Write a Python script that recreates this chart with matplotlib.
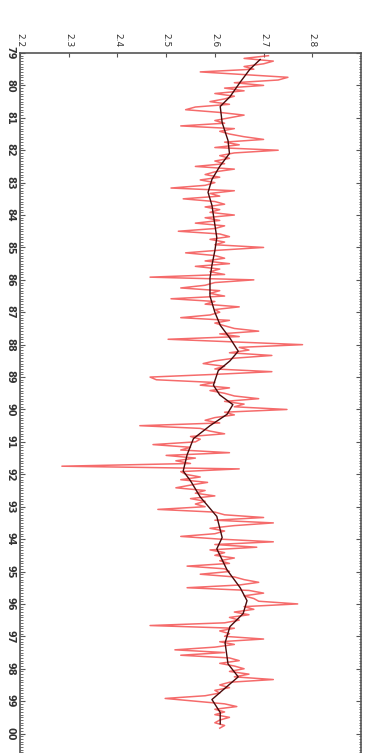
import numpy as np
import matplotlib.pyplot as plt

# ----------------------------------------------------------------------
# Data read off the (rotated) reference: monthly values, Feb 1979 .. Nov 1999
# ----------------------------------------------------------------------
start_year = 1979 + 1 / 12

monthly_values = [
    # 1979 (Feb..Dec)
    2.71, 2.66, 2.72, 2.70, 2.66, 2.68, 2.57, 2.66, 2.75, 2.73, 2.64,
    # 1980
    2.70, 2.62, 2.66, 2.60, 2.64, 2.62, 2.59, 2.63, 2.56, 2.54, 2.61, 2.66,
    # 1981
    2.63, 2.60, 2.62, 2.53, 2.64, 2.61, 2.63, 2.66, 2.70, 2.62, 2.65, 2.60,
    # 1982
    2.73, 2.64, 2.61, 2.63, 2.60, 2.62, 2.56, 2.64, 2.60, 2.58, 2.61, 2.57,
    # 1983
    2.60, 2.58, 2.51, 2.64, 2.59, 2.61, 2.535, 2.60, 2.62, 2.58, 2.61, 2.59,
    # 1984
    2.64, 2.58, 2.61, 2.56, 2.62, 2.60, 2.525, 2.61, 2.63, 2.59, 2.62, 2.60,
    # 1985
    2.70, 2.61, 2.54, 2.60, 2.62, 2.58, 2.63, 2.56, 2.61, 2.59, 2.62, 2.467,
    # 1986
    2.68, 2.60, 2.58, 2.53, 2.61, 2.59, 2.62, 2.51, 2.60, 2.58, 2.65, 2.60,
    # 1987
    2.61, 2.59, 2.53, 2.63, 2.60, 2.62, 2.64, 2.69, 2.61, 2.65, 2.504, 2.64,
    # 1988
    2.78, 2.65, 2.67, 2.63, 2.717, 2.64, 2.60, 2.576, 2.62, 2.60, 2.717, 2.60,
    # 1989
    2.467, 2.48, 2.60, 2.57, 2.63, 2.59, 2.62, 2.64, 2.69, 2.62, 2.66, 2.64,
    # 1990
    2.748, 2.62, 2.64, 2.60, 2.58, 2.61, 2.446, 2.57, 2.59, 2.62, 2.55, 2.57,
    # 1991
    2.56, 2.473, 2.55, 2.53, 2.63, 2.50, 2.56, 2.52, 2.55, 2.286, 2.65, 2.53,
    # 1992
    2.54, 2.57, 2.53, 2.585, 2.55, 2.52, 2.58, 2.56, 2.60, 2.55, 2.58, 2.56,
    # 1993
    2.58, 2.483, 2.60, 2.62, 2.70, 2.60, 2.72, 2.64, 2.59, 2.62, 2.60, 2.53,
    # 1994
    2.61, 2.72, 2.60, 2.686, 2.59, 2.62, 2.60, 2.64, 2.61, 2.63, 2.543, 2.62,
    # 1995
    2.63, 2.57, 2.64, 2.66, 2.69, 2.65, 2.543, 2.67, 2.70, 2.66, 2.68, 2.69,
    # 1996
    2.77, 2.66, 2.68, 2.64, 2.67, 2.63, 2.65, 2.62, 2.467, 2.64, 2.61, 2.63,
    # 1997
    2.62, 2.70, 2.61, 2.64, 2.60, 2.518, 2.62, 2.53, 2.63, 2.65, 2.61, 2.64,
    # 1998
    2.66, 2.63, 2.67, 2.64, 2.72, 2.63, 2.61, 2.63, 2.60, 2.61, 2.58, 2.498,
    # 1999 (Jan..Nov)
    2.56, 2.62, 2.645, 2.60, 2.62, 2.60, 2.63, 2.61, 2.60, 2.62, 2.61,
]

# smoothed curve (dark line)
smooth_years = [1979.2, 1979.5, 1979.9, 1980.35, 1980.65, 1981.15, 1981.7,
                1982.1, 1982.5, 1982.9, 1983.3, 1983.7, 1984.3, 1984.7,
                1985.1, 1985.55, 1985.95, 1986.5, 1987.0, 1987.4, 1987.8,
                1988.2, 1988.5, 1988.8, 1989.25, 1989.55, 1989.85, 1990.15,
                1990.5, 1990.9, 1991.4, 1991.9, 1992.2, 1992.7, 1993.3,
                1993.95, 1994.3, 1994.95, 1995.5, 1995.9, 1996.3, 1996.7,
                1997.2, 1997.85, 1998.25, 1998.65, 1998.95, 1999.35, 1999.7]
smooth_values = [2.693, 2.672, 2.652, 2.631, 2.611, 2.615, 2.627,
                 2.630, 2.610, 2.594, 2.586, 2.594, 2.600, 2.604,
                 2.600, 2.594, 2.590, 2.590, 2.600, 2.611, 2.631,
                 2.648, 2.631, 2.607, 2.597, 2.610, 2.637, 2.625,
                 2.590, 2.556, 2.543, 2.535, 2.550, 2.570, 2.604,
                 2.615, 2.604, 2.625, 2.652, 2.666, 2.658, 2.631,
                 2.621, 2.627, 2.648, 2.617, 2.594, 2.611, 2.611]

value_ticks = [2.2, 2.3, 2.4, 2.5, 2.6, 2.7, 2.8]
year_ticks = list(range(1979, 2001))
year_labels = [f"{y % 100:02d}" for y in year_ticks]

months = start_year + np.arange(len(monthly_values)) / 12

# ----------------------------------------------------------------------
# Figure (drawn already rotated: value across, time downward)
# ----------------------------------------------------------------------
fig = plt.figure(figsize=(3.71, 7.53), dpi=100)
ax = fig.add_axes([20 / 371, 0.0, 341 / 371, 1 - 53 / 753])

ax.plot(monthly_values, months, color="#f23a3a", lw=1.1, alpha=0.75,
        solid_joinstyle="round")
ax.plot(smooth_values, smooth_years, color="#4a0a0a", lw=1.0)

ax.set_xlim(2.2, 2.9)
ax.set_ylim(2000.6, 1979)

ax.xaxis.tick_top()
ax.set_xticks(value_ticks)
ax.set_xticklabels([f"{v:.1f}" for v in value_ticks], rotation=-90,
                   fontsize=6.5, color="#333333")
ax.tick_params(axis="x", direction="in", length=3, pad=4, color="#555555")

ax.set_yticks(year_ticks)
ax.set_yticklabels(year_labels, rotation=-90, fontsize=7, color="#333333",
                   va="center", fontweight="bold")
ax.set_yticks(np.arange(1979, 2000.6, 1 / 12), minor=True)
ax.tick_params(axis="y", which="both", direction="in", left=True, right=True,
               color="#555555")
ax.tick_params(axis="y", which="major", length=3.5, pad=3)
ax.tick_params(axis="y", which="minor", length=1.8)

ax.spines["bottom"].set_visible(False)
for side in ("top", "left", "right"):
    ax.spines[side].set_color("#555555")
    ax.spines[side].set_linewidth(1.2)

fig.savefig("out.png", dpi=100)
